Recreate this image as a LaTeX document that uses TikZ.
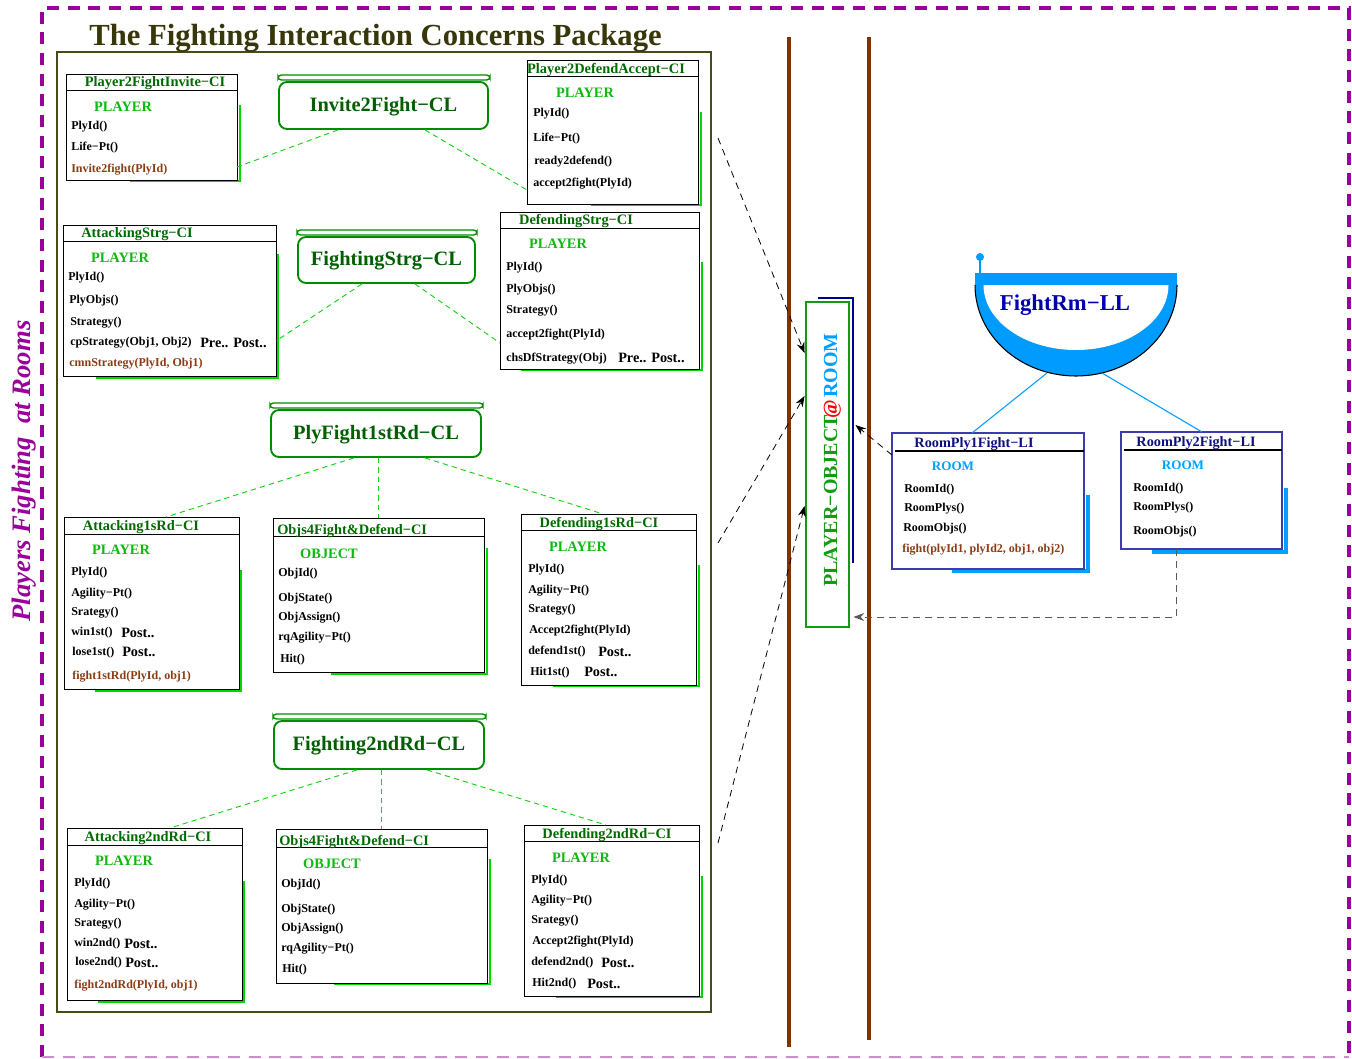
\documentclass[tikz,border=0pt]{standalone}
\usepackage{fontspec}
\setmainfont{Liberation Serif}
\usetikzlibrary{fit,calc,arrows.meta}

\definecolor{pkgpurple}{RGB}{153,0,153}
\definecolor{olivedark}{RGB}{55,55,10}
\definecolor{framecol}{RGB}{75,75,25}
\definecolor{cititle}{RGB}{0,105,0}
\definecolor{rolegreen}{RGB}{15,185,15}
\definecolor{shadowgreen}{RGB}{0,215,0}
\definecolor{linkgreen}{RGB}{20,210,20}
\definecolor{clgreen}{RGB}{0,140,0}
\definecolor{cltext}{RGB}{0,95,0}
\definecolor{poagreen}{RGB}{20,155,20}
\definecolor{methbrown}{RGB}{140,60,20}
\definecolor{wallbrown}{RGB}{130,50,0}
\definecolor{roomblue}{RGB}{0,160,255}
\definecolor{bowlblue}{RGB}{0,155,255}
\definecolor{navytext}{RGB}{0,0,175}
\definecolor{liborder}{RGB}{60,60,175}
\definecolor{linavy}{RGB}{15,15,130}
\definecolor{navyline}{RGB}{0,0,140}

\tikzset{
  ci/.style={draw=black, line width=0.7pt, inner sep=0pt, outer sep=0pt},
  li/.style={draw=liborder, line width=0.9pt, inner sep=0pt, outer sep=0pt},
  cishade/.style={draw=shadowgreen, line width=2pt},
  lishade/.style={draw=roomblue, line width=3pt},
  cittl/.style={font=\fontsize{10.8}{12}\selectfont\bfseries, text=cititle, inner sep=0pt, yshift=-1.1pt},
  littl/.style={font=\fontsize{10.7}{12}\selectfont\bfseries, text=linavy, inner sep=0pt, yshift=-1.1pt},
  role/.style={font=\fontsize{10.8}{12}\selectfont\bfseries, text=rolegreen, inner sep=0pt, yshift=-1.1pt},
  roomrole/.style={font=\fontsize{9.8}{11}\selectfont\bfseries, text=roomblue, inner sep=0pt, yshift=-1.1pt},
  meth/.style={font=\fontsize{9}{10}\selectfont\bfseries, anchor=west, inner sep=0pt, yshift=-1.1pt},
  prepost/.style={font=\fontsize{10.7}{12}\selectfont\bfseries, anchor=west, inner sep=0pt, yshift=-1.1pt},
  clbody/.style={draw=clgreen, line width=1.4pt, rounded corners=6pt, inner sep=0pt},
  cllid/.style={draw=clgreen, line width=1pt, rounded corners=2.5pt, inner sep=0pt},
  cltxt/.style={font=\fontsize{15.3}{17}\selectfont\bfseries, text=cltext, inner sep=0pt},
  gdash/.style={draw=linkgreen, line width=0.7pt, dash pattern=on 4pt off 3pt},
  kdash/.style={draw=black, line width=0.6pt, dash pattern=on 5pt off 4pt,
    -{Stealth[length=8pt,width=6pt]}},
  gdashk/.style={draw=black!65, line width=0.7pt, dash pattern=on 5pt off 4pt,
    -{Stealth[length=8pt,width=6pt]}},
}

% class box: name, x1, y1, x2, y2, y of the title rule
\newcommand\cibox[6]{%
  \node[ci, fit={(#2,#3) (#4,#5)}] (#1) {};
  \draw[line width=0.7pt] (#1.west |- 0,#6) -- (#1.east |- 0,#6);}
% green drop shade: right x, top y of the right part, bottom y, left x of the bottom part
\newcommand\cishadow[4]{\draw[cishade] (#1,#2) -- (#1,#3) -- (#4,#3);}
% class-level box with its lid: name, x1, y1, x2, y2, label
\newcommand\clbox[6]{%
  \node[clbody, fit={(#2,#3) (#4,#5)}] (#1) {};
  \node[cllid, fit={(#2-1,#3-7) (#4+2,#3-2)}] (#1-lid) {};
  \node[cltxt] (#1-txt) at ($(#1.center)+(0,1)$) {#6};}
\newcommand\mth[4]{\node[meth] (#1) at (#2,#3) {#4};}
\newcommand\mthb[4]{\node[meth, text=methbrown] (#1) at (#2,#3) {#4};}
\newcommand\pp[4]{\node[prepost] (#1) at (#2,#3) {#4};}

\begin{document}
\begin{tikzpicture}[x=0.75pt,y=-0.75pt]
\useasboundingbox (0,0) rectangle (1352,1059);
\fill[white] (0,0) rectangle (1352,1059);

% outer dashed frame
\draw[pkgpurple, line width=2.3pt, dash pattern=on 9pt off 6.5pt]
  (42,1057) -- (42,8) -- (1349,8) -- (1349,1057);
\draw[pkgpurple!45, line width=2pt, dash pattern=on 9pt off 6.5pt] (42,1057) -- (1349,1057);

% side label
\node[font=\fontsize{20}{22}\selectfont\bfseries\itshape, text=pkgpurple, rotate=90,
  anchor=base, inner sep=0pt] (sidelabel) at (30,471) {Players Fighting\ \ at Rooms};

% package frame and title
\node[draw=framecol, line width=1.5pt, inner sep=0pt, fit={(57,52) (711,1012)}] (pkg) {};
\node[font=\fontsize{23}{26}\selectfont\bfseries, text=olivedark, anchor=base, inner sep=0pt]
  (pkgtitle) at (375.5,46) {The Fighting Interaction Concerns Package};

% ---------- Invite2Fight ----------
\clbox{inv}{279}{82}{488}{129}{Invite2Fight−CL}

\cishadow{240}{105}{181}{130}
\cibox{p2fi}{66}{74}{237}{180}{90}
\node[cittl] (p2fi-t) at (155,82) {Player2FightInvite−CI};
\node[role] (p2fi-r) at (123,105) {PLAYER};
\mth{p2fi-1}{71}{125}{PlyId()}
\mth{p2fi-2}{71}{146}{Life−Pt()}
\mthb{p2fi-3}{71}{168}{Invite2fight(PlyId)}

\cishadow{701}{112}{205}{591}
\cibox{p2da}{527}{60}{698}{204}{76}
\node[cittl] (p2da-t) at (606,69) {Player2DefendAccept−CI};
\node[role] (p2da-r) at (585,91) {PLAYER};
\mth{p2da-1}{533}{112}{PlyId()}
\mth{p2da-2}{533}{137}{Life−Pt()}
\mth{p2da-3}{534}{160}{ready2defend()}
\mth{p2da-4}{533}{182}{accept2fight(PlyId)}

\draw[gdash] (inv.south -| 338,0) -- (p2fi.east |- 0,167);
\draw[gdash] (inv.south -| 425,0) -- (p2da.west |- 0,190);

% ---------- FightingStrg ----------
\clbox{fst}{298}{237}{475}{283}{FightingStrg−CL}

\cishadow{278}{254}{378}{96}
\cibox{atks}{63}{225}{276}{376}{241}
\node[cittl] (atks-t) at (137,233) {AttackingStrg−CI};
\node[role] (atks-r) at (120,256) {PLAYER};
\mth{atks-1}{68}{276}{PlyId()}
\mth{atks-2}{69}{299}{PlyObjs()}
\mth{atks-3}{70}{321}{Strategy()}
\mth{atks-4}{70}{341}{cpStrategy(Obj1, Obj2)}
\pp{atks-5}{200}{341}{Pre.. Post..}
\mthb{atks-6}{69}{362}{cmnStrategy(PlyId, Obj1)}

\cishadow{702}{262}{370}{521}
\cibox{dfs}{500}{212}{699}{369}{228}
\node[cittl] (dfs-t) at (576,220) {DefendingStrg−CI};
\node[role] (dfs-r) at (558,242) {PLAYER};
\mth{dfs-1}{506}{266}{PlyId()}
\mth{dfs-2}{506}{288}{PlyObjs()}
\mth{dfs-3}{506}{309}{Strategy()}
\mth{dfs-4}{506}{333}{accept2fight(PlyId)}
\mth{dfs-5}{506}{357}{chsDfStrategy(Obj)}
\pp{dfs-6}{618}{356}{Pre.. Post..}

\draw[gdash] (fst.south -| 362,0) -- (atks.east |- 0,341);
\draw[gdash] (fst.south -| 415,0) -- (dfs.west |- 0,343);

% ---------- PlyFight1stRd ----------
\clbox{pf1}{271}{410}{481}{457}{PlyFight1stRd−CL}

\cishadow{241}{570}{691}{95}
\cibox{atk1}{64}{517}{239}{689}{534}
\node[cittl] (atk1-t) at (141,526) {Attacking1sRd−CI};
\node[role] (atk1-r) at (121,548) {PLAYER};
\mth{atk1-1}{71}{571}{PlyId()}
\mth{atk1-2}{71}{592}{Agility−Pt()}
\mth{atk1-3}{71}{611}{Srategy()}
\mth{atk1-4}{71}{631}{win1st()}
\pp{atk1-5}{121}{631}{Post..}
\mth{atk1-6}{72}{651}{lose1st()}
\pp{atk1-7}{122}{650}{Post..}
\mthb{atk1-8}{72}{675}{fight1stRd(PlyId, obj1)}

\cishadow{487}{548}{674}{331}
\cibox{obj1}{273}{518}{484}{672}{536}
\node[cittl, anchor=west] (obj1-t) at (277,530) {Objs4Fight\&Defend−CI};
\node[role] (obj1-r) at (329,552) {OBJECT};
\mth{obj1-1}{278}{572}{ObjId()}
\mth{obj1-2}{278}{597}{ObjState()}
\mth{obj1-3}{278}{616}{ObjAssign()}
\mth{obj1-4}{278}{636}{rqAgility−Pt()}
\mth{obj1-5}{280}{658}{Hit()}

\cishadow{699}{565}{686}{553}
\cibox{dfd1}{521}{514}{696}{685}{530}
\node[cittl] (dfd1-t) at (599,523) {Defending1sRd−CI};
\node[role] (dfd1-r) at (578,545) {PLAYER};
\mth{dfd1-1}{528}{568}{PlyId()}
\mth{dfd1-2}{528}{589}{Agility−Pt()}
\mth{dfd1-3}{528}{608}{Srategy()}
\mth{dfd1-4}{529}{629}{Accept2fight(PlyId)}
\mth{dfd1-5}{528}{650}{defend1st()}
\pp{dfd1-6}{598}{650}{Post..}
\mth{dfd1-7}{530}{671}{Hit1st()}
\pp{dfd1-8}{584}{670}{Post..}

\draw[gdash] (pf1.south -| 354,0) -- (atk1.north -| 166,0);
\draw[gdash] (pf1.south -| 378,0) -- (obj1.north -| 378,0);
\draw[gdash] (pf1.south -| 425,0) -- (dfd1.north -| 603,0);

% ---------- Fighting2ndRd ----------
\clbox{f2r}{274}{721}{484}{769}{Fighting2ndRd−CL}

\cishadow{244}{881}{1002}{98}
\cibox{atk2}{67}{828}{242}{1000}{845}
\node[cittl] (atk2-t) at (148,837) {Attacking2ndRd−CI};
\node[role] (atk2-r) at (124,859) {PLAYER};
\mth{atk2-1}{74}{882}{PlyId()}
\mth{atk2-2}{74}{903}{Agility−Pt()}
\mth{atk2-3}{74}{922}{Srategy()}
\mth{atk2-4}{74}{942}{win2nd()}
\pp{atk2-5}{124}{942}{Post..}
\mth{atk2-6}{75}{961}{lose2nd()}
\pp{atk2-7}{125}{961}{Post..}
\mthb{atk2-8}{74}{984}{fight2ndRd(PlyId, obj1)}

\cishadow{490}{859}{984}{334}
\cibox{obj2}{276}{829}{487}{983}{847}
\node[cittl, anchor=west] (obj2-t) at (279,841) {Objs4Fight\&Defend−CI};
\node[role] (obj2-r) at (332,862) {OBJECT};
\mth{obj2-1}{281}{883}{ObjId()}
\mth{obj2-2}{281}{908}{ObjState()}
\mth{obj2-3}{281}{927}{ObjAssign()}
\mth{obj2-4}{281}{947}{rqAgility−Pt()}
\mth{obj2-5}{282}{968}{Hit()}

\cishadow{702}{876}{997}{556}
\cibox{dfd2}{524}{825}{699}{996}{841}
\node[cittl] (dfd2-t) at (607,834) {Defending2ndRd−CI};
\node[role] (dfd2-r) at (581,856) {PLAYER};
\mth{dfd2-1}{531}{879}{PlyId()}
\mth{dfd2-2}{531}{899}{Agility−Pt()}
\mth{dfd2-3}{531}{919}{Srategy()}
\mth{dfd2-4}{532}{940}{Accept2fight(PlyId)}
\mth{dfd2-5}{531}{961}{defend2nd()}
\pp{dfd2-6}{601}{961}{Post..}
\mth{dfd2-7}{532}{982}{Hit2nd()}
\pp{dfd2-8}{587}{982}{Post..}

\draw[gdash] (f2r.south -| 357,0) -- (atk2.north -| 170,0);
\draw[gdash] (f2r.south -| 381,0) -- (obj2.north -| 381,0);
\draw[gdash] (f2r.south -| 427,0) -- (dfd2.north -| 606,0);

% ---------- walls and the player-object-room link ----------
\draw[wallbrown, line width=3pt] (789,37) -- (789,1047);
\draw[wallbrown, line width=3pt] (869,37) -- (869,1040);

\draw[navyline, line width=2.2pt] (818,298) -- (853,298) -- (853,563);
\node[draw=poagreen, line width=2.2pt, fill=white, inner sep=0pt, fit={(806,302) (849,627)}] (poa) {};
\node[font=\fontsize{15}{17}\selectfont\bfseries, rotate=90, anchor=base, inner sep=0pt]
  (poa-txt) at (837,460) {\textcolor{poagreen}{PLAYER−OBJECT}\kern-3pt\textcolor{red}{@}\kern2pt\textcolor{roomblue}{ROOM}};

\coordinate (src1) at (718,138);
\coordinate (src2) at (718,543);
\coordinate (src3) at (718,843);
\draw[kdash] (src1) -- (poa.west |- 0,353);
\draw[kdash] (src2) -- (poa.west |- 0,396);
\draw[kdash] (src3) -- (poa.west |- 0,506);

% ---------- FightRm lifeline ----------
\fill[bowlblue] (975,273) rectangle (1177,285);
\fill[bowlblue] (975,285) arc[start angle=180, end angle=0, x radius=101, y radius=91] -- cycle;
\draw[black, line width=0.8pt] (975,285) arc[start angle=180, end angle=0, x radius=101, y radius=91];
\fill[white] (983.5,285) arc[start angle=180, end angle=0, x radius=92.5, y radius=65] -- cycle;
\draw[bowlblue, line width=1.3pt] (980,273) -- (980,259);
\fill[bowlblue] (980,257) circle[radius=4];
\node[font=\fontsize{17}{19}\selectfont\bfseries, text=navytext, inner sep=0pt] (fr) at (1065,305) {FightRm−LL};
\coordinate (frL) at (1047,373);
\coordinate (frR) at (1102,373);

\draw[lishade] (1088,495) -- (1088,571) -- (952,571);
\node[li, fill=white, fit={(892,433) (1084,569)}] (rp1) {};
\draw[line width=0.8pt] (895,451) -- (rp1.east |- 0,451);
\node[littl] (rp1-t) at (974,443) {RoomPly1Fight−LI};
\node[roomrole] (rp1-r) at (953,465) {ROOM};
\mth{rp1-1}{904}{488}{RoomId()}
\mth{rp1-2}{904}{507}{RoomPlys()}
\mth{rp1-3}{903}{527}{RoomObjs()}
\mthb{rp1-4}{902}{548}{fight(plyId1, plyId2, obj1, obj2)}

\draw[lishade] (1286,488) -- (1286,552) -- (1152,552);
\node[li, fill=white, fit={(1121,432) (1282,549)}] (rp2) {};
\draw[line width=0.8pt] (1124,450) -- (rp2.east |- 0,450);
\node[littl] (rp2-t) at (1196,442) {RoomPly2Fight−LI};
\node[roomrole] (rp2-r) at (1183,464) {ROOM};
\mth{rp2-1}{1133}{487}{RoomId()}
\mth{rp2-2}{1133}{506}{RoomPlys()}
\mth{rp2-3}{1133}{530}{RoomObjs()}

\draw[bowlblue, line width=0.8pt] (frL) -- (rp1.north -| 972,0);
\draw[bowlblue, line width=0.8pt] (frR) -- (rp2.north -| 1202,0);

\draw[kdash] (rp1.west |- 0,455) -- ($(poa.east |- 0,425)+(5,0)$);
\draw[gdashk] (rp2.south -| 1176,0) |- ($(poa.east |- 0,617)+(3,0)$);

\end{tikzpicture}
\end{document}
